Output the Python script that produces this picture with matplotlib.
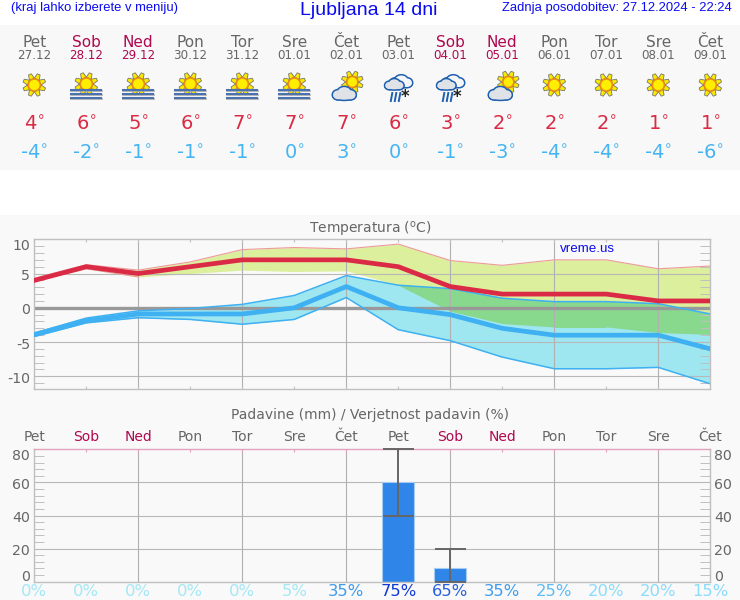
import matplotlib
matplotlib.use('Agg')
import matplotlib.pyplot as plt
import numpy as np
from matplotlib.patches import Circle, Ellipse, Polygon, Rectangle
from matplotlib.transforms import ScaledTranslation, blended_transform_factory

plt.rcParams['font.family'] = 'DejaVu Sans'
plt.rcParams['mathtext.default'] = 'regular'

# podatki
dnevi = ['Pet', 'Sob', 'Ned', 'Pon', 'Tor', 'Sre', 'Čet', 'Pet', 'Sob', 'Ned', 'Pon', 'Tor', 'Sre', 'Čet']
datumi = ['27.12', '28.12', '29.12', '30.12', '31.12', '01.01', '02.01',
          '03.01', '04.01', '05.01', '06.01', '07.01', '08.01', '09.01']
ikone = ['sun', 'fog', 'fog', 'fog', 'fog', 'fog', 'cloud', 'snow', 'snow', 'cloud', 'sun', 'sun', 'sun', 'sun']
tmax_txt = [4, 6, 5, 6, 7, 7, 7, 6, 3, 2, 2, 2, 1, 1]
tmin_txt = [-4, -2, -1, -1, -1, 0, 3, 0, -1, -3, -4, -4, -4, -6]

tmax = [4.0, 6.0, 5.0, 6.0, 7.0, 7.0, 7.0, 6.0, 3.1, 2.0, 2.0, 2.0, 1.0, 1.0]
tmax_zg = [4.3, 6.3, 5.5, 6.7, 8.5, 8.8, 8.6, 9.3, 6.9, 6.2, 7.0, 7.0, 5.7, 6.1]
tmax_sp = [3.9, 5.7, 4.5, 5.0, 5.5, 5.3, 5.4, 3.3, -0.5, -2.3, -2.8, -2.8, -3.6, -3.9]
tmin = [-3.9, -1.9, -0.9, -0.9, -0.9, 0.0, 3.1, 0.0, -1.0, -3.0, -4.0, -4.0, -4.0, -6.0]
tmin_zg = [-3.7, -1.5, -0.45, -0.1, 0.5, 1.8, 4.7, 3.3, 2.8, 1.4, 0.9, 0.9, 0.6, -0.9]
tmin_sp = [-4.2, -2.2, -1.45, -1.7, -2.4, -1.7, 1.5, -3.2, -4.8, -7.2, -8.9, -8.9, -8.7, -11.1]

padavine = [0, 0, 0, 0, 0, 0, 0, 60, 8, 0, 0, 0, 0, 0]
pad_sp = [0, 0, 0, 0, 0, 0, 0, 40, 0, 0, 0, 0, 0, 0]
pad_zg = [0, 0, 0, 0, 0, 0, 0, 80, 20, 0, 0, 0, 0, 0]
verjetnost = [0, 0, 0, 0, 0, 5, 35, 75, 65, 35, 25, 20, 20, 15]

SIVA = '#666666'
VIKEND = '#b0084f'
RDECA = '#da2a45'
MODRA = '#3fb0f2'
MODRA_TXT = '#0b0bf0'


def barva_pct(p):
    if p <= 5:
        return '#a2e8f6'
    if p <= 20:
        return '#8adcfb'
    if p <= 25:
        return '#5cbcf6'
    if p <= 35:
        return '#3c9cf0'
    if p <= 65:
        return '#2a5fe0'
    return '#1038d8'


fig = plt.figure(figsize=(7.4, 6), dpi=100, facecolor='white')

# prekrivna os v pikslih (ozadje, glava, ikone)
bg = fig.add_axes([0, 0, 1, 1], zorder=0)
bg.set_xlim(0, 740)
bg.set_ylim(600, 0)
bg.axis('off')
bg.add_patch(Rectangle((0, 25), 740, 145, fc='#f8f8f8', ec='none'))
bg.add_patch(Rectangle((0, 215), 740, 385, fc='#f9f9f9', ec='none'))


def sonce(cx, cy, r=6.0):
    for k in range(8):
        a = np.pi / 8 + k * np.pi / 4
        d = np.array([np.cos(a), np.sin(a)])
        n = np.array([-d[1], d[0]])
        c = np.array([cx, cy])
        zarek = [c + d * (r + 0.3) + n * 2.6, c + d * (r + 5.5) + n * 1.5,
                 c + d * (r + 5.5) - n * 1.5, c + d * (r + 0.3) - n * 2.6]
        bg.add_patch(Polygon(zarek, fc='#fbe900', ec='#77776a', lw=0.6, zorder=3))
    bg.add_patch(Circle((cx, cy), r, fc='#ffee00', ec='#f08a10', lw=1.1, zorder=4))


def oblak(cx, cy, s=1.0, fc='#dfe3e8', z=5):
    deli = [(-7, 2, 10, 9), (0, -1, 13, 10), (7, 2, 10, 9), (0, 3, 22, 8)]
    for dx, dy, w, h in deli:
        bg.add_patch(Ellipse((cx + dx * s, cy + dy * s), w * s * 1.1, h * s * 1.1, fc='none', ec='#1f5fb0', lw=2.2, zorder=z))
    for dx, dy, w, h in deli:
        bg.add_patch(Ellipse((cx + dx * s, cy + dy * s), w * s * 1.1, h * s * 1.1, fc=fc, ec='none', zorder=z + 0.1))


def ikona(vrsta, x):
    if vrsta == 'sun':
        sonce(x, 85)
    elif vrsta == 'fog':
        sonce(x, 84)
        for y in [89.5, 94, 97.5]:
            bg.plot([x - 15, x + 16], [y + 1, y + 1], color='#aaaaaa', lw=1.2, zorder=5)
            bg.plot([x - 15, x + 15], [y, y], color='#4a72b0', lw=1.5, zorder=6)
    elif vrsta == 'cloud':
        sonce(x + 6, 82, 5.5)
        oblak(x - 2, 93, 0.9)
    elif vrsta == 'snow':
        oblak(x + 3, 81, 0.85, fc='#f4f6f8', z=5)
        oblak(x - 4, 84, 0.72, z=6)
        for dx in [-6, -2, 2]:
            bg.plot([x + dx, x + dx - 1.5], [93, 101], color='#1f5fb0', lw=1.4, zorder=7)
        bg.text(x + 7, 97, '*', fontsize=12, color='#222222', ha='center', va='center', fontweight='bold', zorder=7)


X0 = 34.3
KORAK = 52.0
for i in range(14):
    x = X0 + KORAK * i
    barva = VIKEND if dnevi[i] in ('Sob', 'Ned') else SIVA
    bg.text(x, 42.5, dnevi[i], fontsize=11, color=barva, ha='center', va='center')
    bg.text(x, 55.5, datumi[i], fontsize=8.6, color=barva, ha='center', va='center')
    ikona(ikone[i], x)
    bg.text(x, 125, r'%d$^{\circ}$' % tmax_txt[i], fontsize=14, color=RDECA, ha='center', va='center')
    bg.text(x, 154, r'%d$^{\circ}$' % tmin_txt[i], fontsize=14, color='#45b4f2', ha='center', va='center')

bg.text(11, 8.5, '(kraj lahko izberete v meniju)', family='Liberation Sans', fontsize=9.4, color=MODRA_TXT, va='center')
bg.text(369, 10.5, 'Ljubljana 14 dni', family='Liberation Sans', fontsize=14, color=MODRA_TXT, ha='center', va='center')
bg.text(732, 8.5, 'Zadnja posodobitev: 27.12.2024 - 22:24', family='Liberation Sans', fontsize=9.35, color=MODRA_TXT, ha='right', va='center')

bg.text(370, 229, 'Temperatura ($^{o}$C)', fontsize=10, color=SIVA, ha='center', va='center')
bg.text(370, 415, 'Padavine (mm) / Verjetnost padavin (%)', fontsize=10, color=SIVA, ha='center', va='center')


def os_px(levo, zgoraj, desno, spodaj):
    ax = fig.add_axes([levo / 740, 1 - spodaj / 600, (desno - levo) / 740, (spodaj - zgoraj) / 600], zorder=2)
    ax.patch.set_alpha(0)
    ax.set_xlim(0, 13)
    ax.set_xticks(range(14))
    ax.grid(False)
    for s in ax.spines.values():
        s.set_color('#c0c0c0')
        s.set_linewidth(1.0)
    return ax


def zamakni(oznaka, px):
    # premik oznake navzdol za px pikslov
    oznaka.set_transform(oznaka.get_transform() + ScaledTranslation(0, -px / 100, fig.dpi_scale_trans))


dni = np.arange(14)

# temperatura
ax1 = os_px(34.3, 239.3, 710.3, 389.3)
ax1.set_ylim(-11.9, 10)
rumena = ax1.fill_between(dni, tmax_sp, tmax_zg, color='#dcef9c', lw=0, zorder=1)
moder_pas = ax1.fill_between(dni, tmin_sp, tmin_zg, color='#9ee7f0', lw=0, zorder=1.1)
zelena = ax1.fill_between(dni, tmax_sp, tmax_zg, color='#88d88e', lw=0, zorder=1.2)
zelena.set_clip_path(moder_pas.get_paths()[0], ax1.transData)

ax1.set_yticks([-10, -5, 0, 5, 10])
ax1.set_yticks(np.arange(-11, 10), minor=True)
ax1.set_yticklabels(['-10', '-5', '0', '5', '10'])
ax1.tick_params(axis='y', which='minor', direction='in', left=True, right=True, length=7, width=0.7, color='#c0c0c0')
ax1.tick_params(axis='y', which='major', length=0, labelsize=10.2, labelcolor=SIVA, pad=3)
ax1.tick_params(axis='x', direction='in', top=True, bottom=True, length=2, width=0.8, color='#c0c0c0', labelbottom=False)
ax1.yaxis.get_major_ticks()[-1].label1.set_verticalalignment('top')
for t in ax1.yaxis.get_major_ticks()[:-1]:
    zamakni(t.label1, 1)

for y in [-10, -5, 5]:
    ax1.axhline(y, color='#b8b8b8', lw=0.8, zorder=1.5)
for x in range(2, 13, 2):
    ax1.axvline(x, color='#b0b0b0', lw=0.8, zorder=1.5)
ax1.axhline(0, color='#999999', lw=2.4, zorder=1.6)

ax1.plot(dni, tmax_zg, color='#ee9a9a', lw=0.8, zorder=2)
ax1.plot(dni, tmax_sp[:3] + [None] * 11, color='#ee9a9a', lw=0.8, zorder=2)
ax1.plot(dni, tmin_zg, color=MODRA, lw=1.1, zorder=2)
ax1.plot(dni, tmin_sp, color=MODRA, lw=1.1, zorder=2)
ax1.plot(dni, tmin, color=MODRA, lw=3.4, zorder=3, solid_joinstyle='miter')
ax1.plot(dni, tmax, color=RDECA, lw=3.4, zorder=4, solid_joinstyle='miter')
ax1.text(587, 248.5, 'vreme.us', family='Liberation Sans', fontsize=9.6, color=MODRA_TXT,
         ha='center', va='center', transform=bg.transData, zorder=5)

# padavine
ax2 = os_px(34.3, 449.3, 710.3, 581.7)
ax2.set_ylim(0, 80)
ax2.bar(dni, padavine, width=0.61, color='#2f86e8', edgecolor='#a5ccf2', lw=0.8, zorder=2)
moker = [i for i in dni if pad_zg[i] > 0]
ax2.vlines(moker, [pad_sp[i] for i in moker], [pad_zg[i] for i in moker], color='#666666', lw=1.4, zorder=3, clip_on=False)
ax2.hlines([pad_sp[i] for i in moker], [i - 0.3 for i in moker], [i + 0.3 for i in moker], color='#666666', lw=1.4, zorder=3, clip_on=False)
ax2.hlines([pad_zg[i] for i in moker], [i - 0.3 for i in moker], [i + 0.3 for i in moker], color='#666666', lw=1.4, zorder=3, clip_on=False)

ax2.spines['top'].set_color('#e2a3bf')
ax2.set_yticks([0, 20, 40, 60, 80])
ax2.set_yticks(np.arange(0, 81, 4), minor=True)
ax2.set_yticklabels(['0', '20', '40', '60', '80'])
ax2.tick_params(axis='y', which='minor', direction='in', left=True, right=True, length=7, width=0.7, color='#c0c0c0')
ax2.tick_params(axis='y', which='major', length=0, left=True, right=False, labelleft=True, labelright=True, labelsize=10.2, labelcolor=SIVA, pad=3)
ax2.tick_params(axis='x', direction='in', top=True, bottom=False, length=2, width=0.8, color='#e2a3bf',
                labeltop=True, labelbottom=False, labelsize=10, pad=4)
ax2.set_xticklabels(dnevi)
for oznaka, ime in zip(ax2.get_xticklabels(), dnevi):
    oznaka.set_color(VIKEND if ime in ('Sob', 'Ned') else SIVA)
tiki = ax2.yaxis.get_major_ticks()
tiki[0].label1.set_verticalalignment('bottom')
tiki[0].label2.set_verticalalignment('bottom')
zamakni(tiki[0].label1, 2.5)
zamakni(tiki[0].label2, 2.5)
for t in tiki[1:4]:
    zamakni(t.label1, 1)
    zamakni(t.label2, 1)
tiki[-1].label1.set_verticalalignment('top')
tiki[-1].label2.set_verticalalignment('top')

for y in [20, 40, 60]:
    ax2.axhline(y, color='#b8b8b8', lw=0.8, zorder=1)
for x in range(2, 13, 2):
    ax2.axvline(x, color='#b0b0b0', lw=0.8, zorder=1)

pct_trans = blended_transform_factory(ax2.transData, bg.transData)
for i, p in enumerate(verjetnost):
    ax2.text(i, 591.5, '%d%%' % p, fontsize=11.8, color=barva_pct(p), ha='center', va='center',
             transform=pct_trans, clip_on=False)

fig.savefig('out.png', dpi=100)
